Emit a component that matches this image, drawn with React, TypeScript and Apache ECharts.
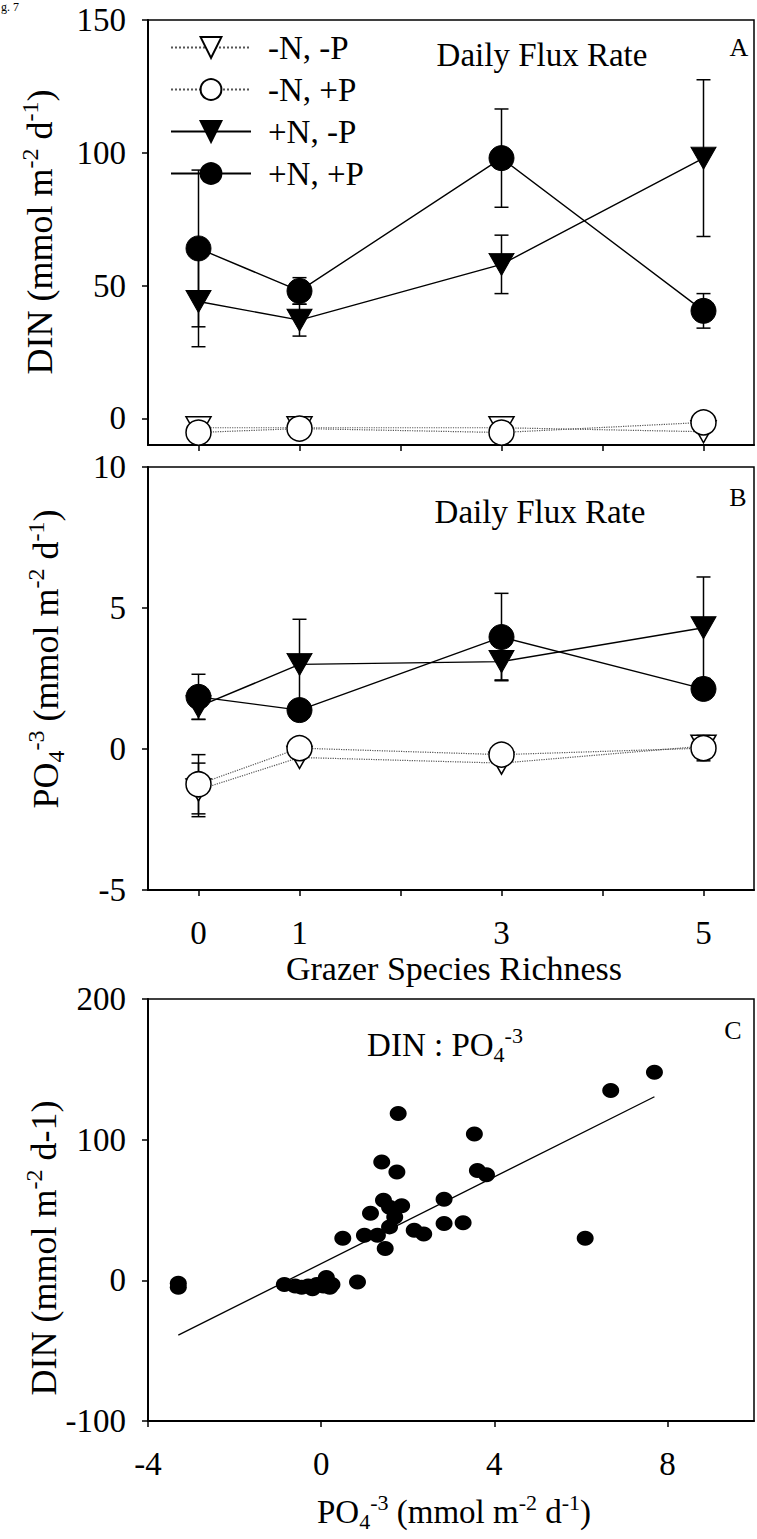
import React, { useEffect, useRef } from 'react';
import * as echarts from 'echarts';

const FONT = '"Liberation Serif", "Times New Roman", serif';

// Grazer species richness (x positions of the points)
const richness = [0, 1, 3, 5];
const seriesNames = ['-N, -P', '-N, +P', '+N, -P', '+N, +P'];

// Panel A: DIN daily flux (mmol m-2 d-1)
const dinNegNNegP = [-3.5, -3.5, -3.5, -5];
const dinNegNPosP = [-5.3, -3.8, -5.3, -1.5];
const dinPosNNegP = [44, 37, 58, 98];
const dinPosNPosP = [64, 48, 98, 40.5];
const dinErrPosNNegP = [17, 6, 11, 29.5];
const dinErrPosNPosP = [29.5, 5, 18.5, 6.5];

// Panel B: PO4 daily flux (mmol m-2 d-1)
const po4NegNNegP = [-1.45, -0.3, -0.5, 0.1];
const po4NegNPosP = [-1.25, 0.03, -0.2, 0.03];
const po4PosNNegP = [1.5, 3.0, 3.1, 4.3];
const po4PosNPosP = [1.85, 1.38, 3.97, 2.13];
const po4ErrNegNNegP = [0.95, 0, 0, 0];
const po4ErrNegNPosP = [1.05, 0, 0, 0.45];
const po4ErrPosNNegP = [0.45, 1.6, 0.65, 1.8];
const po4ErrPosNPosP = [0.8, 0.1, 1.55, 0.3];

// Panel C: DIN vs PO4 scatter
const ratioPO4 = [-3.3, -3.3, -0.85, -0.6, -0.45, -0.3, -0.2, -0.1, 0.05, 0.12, 0.2, 0.25, 0.84, 0.5, 1.0, 1.3, 1.14, 1.48, 1.4, 1.75, 1.78, 1.44, 1.58, 1.86, 1.7, 1.58, 2.15, 2.37, 2.84, 2.84, 3.28, 3.54, 3.61, 3.82, 6.1, 6.69, 7.7];
const ratioDIN = [-2, -5, -3, -4, -5, -4, -6, -3, -4, 2, -5, -3, -1.2, 30, 32, 32, 47.7, 22.7, 84.2, 77, 118.6, 57, 52, 53, 45, 38, 35.6, 33, 57.6, 40.4, 41, 104, 78, 75, 30, 135, 148];
const fitPO4 = [-3.3, 7.7];
const fitDIN = [-39, 130.5];

// Tick values
const richnessTicks = [0, 1, 2, 3, 4, 5];
const richnessLabels = [0, 1, 3, 5];
const dinTicks = [0, 50, 100, 150];
const po4Ticks = [-5, 0, 5, 10];
const ratioYTicks = [-100, 0, 100, 200];
const ratioXTicks = [-4, 0, 4, 8];

const pairs = (xs: number[], ys: number[]) => xs.map((x, i) => [x, ys[i]]);

function errSeries(idx: number, ys: number[], errs: number[]) {
  const data = richness
    .map((x, i) => [x, ys[i], errs[i]])
    .filter((d) => d[2] > 0);
  return {
    type: 'custom',
    xAxisIndex: idx,
    yAxisIndex: idx,
    silent: true,
    z: 1,
    encode: { x: 0, y: 1 },
    data,
    renderItem: (params: any, api: any) => {
      const x = api.value(0);
      const y = api.value(1);
      const e = api.value(2);
      const top = api.coord([x, y + e]);
      const bot = api.coord([x, y - e]);
      const hw = 7;
      const style = { stroke: '#000', lineWidth: 1.5 };
      return {
        type: 'group',
        children: [
          { type: 'line', shape: { x1: top[0], y1: top[1], x2: bot[0], y2: bot[1] }, style },
          { type: 'line', shape: { x1: top[0] - hw, y1: top[1], x2: top[0] + hw, y2: top[1] }, style },
          { type: 'line', shape: { x1: bot[0] - hw, y1: bot[1], x2: bot[0] + hw, y2: bot[1] }, style },
        ],
      };
    },
  };
}

function lineSeries(idx: number, name: string, ys: number[], kind: number) {
  const open = kind < 2;
  const tri = kind % 2 === 0;
  return {
    type: 'line',
    name,
    xAxisIndex: idx,
    yAxisIndex: idx,
    data: pairs(richness, ys),
    symbol: tri ? 'triangle' : 'circle',
    symbolRotate: tri ? 180 : 0,
    symbolSize: tri ? [25, 22] : 25,
    z: open ? 3 : 4,
    silent: true,
    emphasis: { disabled: true },
    itemStyle: open
      ? { color: '#fff', borderColor: '#000', borderWidth: 1.5, opacity: 1 }
      : { color: '#000', borderColor: '#000', borderWidth: 1, opacity: 1 },
    lineStyle: open
      ? { color: '#555', width: 1.2, type: 'dotted' }
      : { color: '#000', width: 1.4, type: 'solid' },
  };
}

const axisLineStyle = { onZero: false, lineStyle: { color: '#000', width: 2 } };
const tickStyle = (vals: number[]) => ({
  show: true,
  inside: false,
  length: 6,
  customValues: vals,
  lineStyle: { color: '#000', width: 1.5 },
});
const labelStyle = (vals: number[], margin: number) => ({
  show: true,
  customValues: vals,
  fontSize: 33,
  fontFamily: FONT,
  color: '#000',
  margin,
});

const mainRich = (size: number) => ({
  a: { fontSize: size, fontFamily: FONT, fill: '#000', color: '#000', lineHeight: size + 8, verticalAlign: 'middle' },
  s: { fontSize: Math.round(size * 0.68), fontFamily: FONT, fill: '#000', color: '#000', lineHeight: Math.round(size * 0.68), verticalAlign: 'top' },
  b: { fontSize: Math.round(size * 0.68), fontFamily: FONT, fill: '#000', color: '#000', lineHeight: Math.round(size * 0.68), verticalAlign: 'bottom' },
});

function txt(x: number, y: number, text: string, size: number, rotation = 0, rich = false, align = 'center') {
  return {
    type: 'text',
    x,
    y,
    rotation,
    silent: true,
    style: {
      text,
      fill: '#000',
      fontSize: size,
      fontFamily: FONT,
      align,
      verticalAlign: 'middle',
      rich: rich ? mainRich(size) : undefined,
    },
  };
}

export default function App() {
  const ref = useRef<HTMLDivElement>(null);
  useEffect(() => {
    document.body.style.margin = '0';
    const chart = echarts.init(ref.current as HTMLDivElement, undefined, { renderer: 'svg' });
    const option: any = {
      animation: false,
      backgroundColor: '#fff',
      textStyle: { fontFamily: FONT },
      grid: [
        { left: 148, top: 20, width: 606, height: 425, show: true, borderColor: '#000', borderWidth: 1.5, backgroundColor: 'transparent' },
        { left: 148, top: 467, width: 606, height: 423, show: true, borderColor: '#000', borderWidth: 1.5, backgroundColor: 'transparent' },
        { left: 148, top: 999, width: 606, height: 422, show: true, borderColor: '#000', borderWidth: 1.5, backgroundColor: 'transparent' },
      ],
      xAxis: [
        { gridIndex: 0, type: 'value', min: -0.5, max: 5.5, axisLine: axisLineStyle, axisTick: tickStyle(richnessTicks), axisLabel: { show: false }, splitLine: { show: false } },
        { gridIndex: 1, type: 'value', min: -0.5, max: 5.5, axisLine: axisLineStyle, axisTick: tickStyle(richnessTicks), axisLabel: labelStyle(richnessLabels, 26), splitLine: { show: false } },
        { gridIndex: 2, type: 'value', min: -4, max: 10, axisLine: axisLineStyle, axisTick: tickStyle(ratioXTicks), axisLabel: labelStyle(ratioXTicks, 26), splitLine: { show: false } },
      ],
      yAxis: [
        { gridIndex: 0, type: 'value', min: -10, max: 150, axisLine: axisLineStyle, axisTick: tickStyle(dinTicks), axisLabel: labelStyle(dinTicks, 22), splitLine: { show: false } },
        { gridIndex: 1, type: 'value', min: -5, max: 10, axisLine: axisLineStyle, axisTick: tickStyle(po4Ticks), axisLabel: labelStyle(po4Ticks, 22), splitLine: { show: false } },
        { gridIndex: 2, type: 'value', min: -100, max: 200, axisLine: axisLineStyle, axisTick: tickStyle(ratioYTicks), axisLabel: labelStyle(ratioYTicks, 22), splitLine: { show: false } },
      ],
      legend: {
        data: seriesNames,
        orient: 'vertical',
        left: 165,
        top: 26,
        itemWidth: 80,
        itemHeight: 26,
        itemGap: 9,
        selectedMode: false,
        textStyle: { fontSize: 33, fontFamily: FONT, color: '#000', padding: [0, 0, 0, 12] },
      },
      series: [
        errSeries(0, dinPosNNegP, dinErrPosNNegP),
        errSeries(0, dinPosNPosP, dinErrPosNPosP),
        lineSeries(0, seriesNames[0], dinNegNNegP, 0),
        lineSeries(0, seriesNames[1], dinNegNPosP, 1),
        lineSeries(0, seriesNames[2], dinPosNNegP, 2),
        lineSeries(0, seriesNames[3], dinPosNPosP, 3),
        errSeries(1, po4NegNNegP, po4ErrNegNNegP),
        errSeries(1, po4NegNPosP, po4ErrNegNPosP),
        errSeries(1, po4PosNNegP, po4ErrPosNNegP),
        errSeries(1, po4PosNPosP, po4ErrPosNPosP),
        lineSeries(1, seriesNames[0], po4NegNNegP, 0),
        lineSeries(1, seriesNames[1], po4NegNPosP, 1),
        lineSeries(1, seriesNames[2], po4PosNNegP, 2),
        lineSeries(1, seriesNames[3], po4PosNPosP, 3),
        {
          type: 'scatter',
          name: 'DIN : PO4',
          xAxisIndex: 2,
          yAxisIndex: 2,
          data: pairs(ratioPO4, ratioDIN),
          symbol: 'circle',
          symbolSize: [17, 15],
          silent: true,
          itemStyle: { color: '#000', opacity: 1 },
          z: 3,
        },
        {
          type: 'line',
          name: 'fit',
          xAxisIndex: 2,
          yAxisIndex: 2,
          data: pairs(fitPO4, fitDIN),
          symbol: 'none',
          silent: true,
          lineStyle: { color: '#000', width: 1.3 },
          z: 2,
        },
      ],
      graphic: [
        txt(1, 7, 'g. 7', 12, 0, false, 'left'),
        txt(542, 55, 'Daily Flux Rate', 33),
        txt(739, 47, 'A', 26),
        txt(540, 512, 'Daily Flux Rate', 33),
        txt(738, 497, 'B', 26),
        txt(445, 1045, '{a|DIN : PO}{b|4}{s|-3}', 33, 0, true),
        txt(733, 1030, 'C', 26),
        txt(40, 232, '{a|DIN (mmol m}{s|-2}{a| d}{s|-1}{a|)}', 36, Math.PI / 2, true),
        txt(46, 659, '{a|PO}{b|4}{s|-3}{a| (mmol m}{s|-2}{a| d}{s|-1}{a|)}', 36, Math.PI / 2, true),
        txt(44, 1248, '{a|DIN (mmol m}{s|-2}{a| d-1)}', 36, Math.PI / 2, true),
        txt(454, 968, 'Grazer Species Richness', 34),
        txt(454, 1512, '{a|PO}{b|4}{s|-3}{a| (mmol m}{s|-2}{a| d}{s|-1}{a|)}', 33, 0, true),
      ],
    };
    chart.setOption(option);
    return () => chart.dispose();
  }, []);
  return <div ref={ref} style={{ width: 757, height: 1539 }} />;
}
